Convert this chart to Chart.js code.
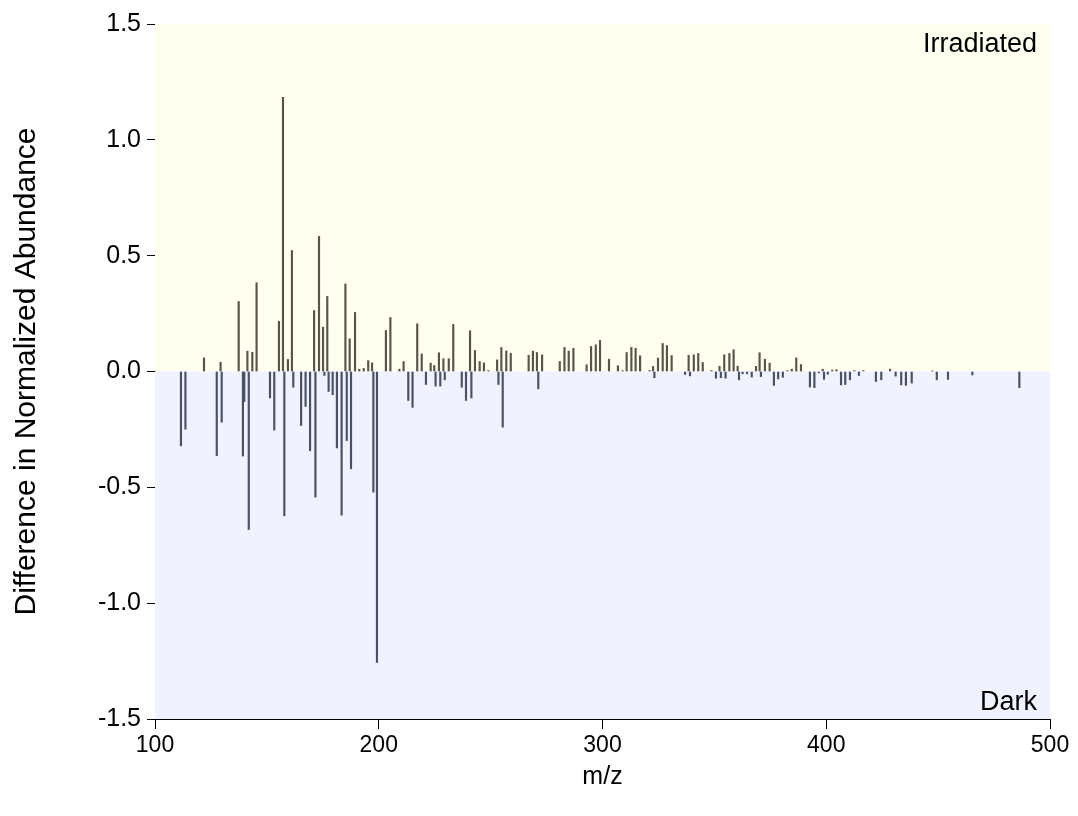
<!DOCTYPE html>
<html>
<head>
<meta charset="utf-8">
<script src="https://cdn.jsdelivr.net/npm/chart.js@4.4.1/dist/chart.umd.min.js"></script>
<style>
  html, body { margin: 0; padding: 0; background: #fff; }
  #wrap { width: 1078px; height: 816px; }
</style>
</head>
<body>
<div id="wrap"><canvas id="diff-chart" width="1078" height="816"></canvas></div>
<script>
// m/z of each peak and the irradiated-minus-dark abundance difference
const mzValues = [
  111.6, 113.6, 121.9, 127.6, 129.3, 129.8, 137.4, 139.3, 139.9, 141.3,
  141.9, 143.5, 145.4, 151.4, 153.3, 155.4, 157.2, 157.8, 159.4, 161.2,
  161.8, 165.3, 167.3, 169.3, 171.1, 171.7, 173.3, 175.1, 175.7, 177.0,
  177.6, 179.4, 181.3, 183.4, 185.1, 185.7, 187.0, 187.6, 189.4, 191.3,
  193.3, 195.3, 197.0, 197.6, 199.2, 203.2, 205.2, 209.2, 211.1, 213.2,
  215.1, 217.2, 219.2, 221.1, 223.2, 224.8, 225.4, 226.9, 227.5, 228.9,
  229.5, 231.3, 233.3, 237.1, 239.0, 240.8, 241.4, 243.0, 245.1, 247.0,
  249.0, 252.9, 253.5, 254.8, 255.4, 257.0, 259.0, 267.0, 268.9, 270.7,
  271.3, 273.0, 280.9, 283.0, 284.9, 287.0, 292.9, 294.9, 297.0, 298.9,
  302.9, 306.9, 309.0, 310.8, 312.9, 314.8, 316.8, 321.0, 322.6, 323.2,
  324.8, 326.9, 328.8, 330.9, 336.9, 338.5, 339.1, 340.8, 342.8, 344.8,
  348.7, 350.7, 352.3, 352.9, 354.4, 355.0, 356.7, 358.6, 360.4, 361.0,
  362.6, 364.6, 366.7, 368.6, 370.2, 370.8, 372.6, 374.7, 376.6, 378.5,
  380.6, 382.6, 384.6, 386.6, 388.7, 392.7, 394.7, 396.7, 398.4, 399.0,
  400.7, 402.7, 404.6, 406.6, 408.5, 410.6, 412.6, 414.6, 416.6, 422.2,
  424.6, 428.5, 431.0, 433.5, 435.6, 438.2, 447.4, 449.4, 454.4, 465.3,
  486.3
];
const diffValues = [
  -0.321, -0.249, 0.059, -0.363, 0.040, -0.219, 0.302, -0.365, -0.130, 0.088,
  -0.682, 0.083, 0.383, -0.114, -0.253, 0.217, 1.184, -0.623, 0.052, 0.522,
  -0.068, -0.233, -0.151, -0.342, 0.263, -0.542, 0.583, 0.191, -0.017, 0.324,
  -0.086, -0.100, -0.330, -0.620, 0.378, -0.298, 0.141, -0.420, 0.255, 0.010,
  0.013, 0.047, 0.037, -0.521, -1.256, 0.177, 0.233, 0.010, 0.043, -0.125,
  -0.155, 0.206, 0.076, -0.056, 0.036, 0.026, -0.063, 0.081, -0.063, 0.055,
  -0.036, 0.055, 0.203, -0.068, -0.125, 0.176, -0.114, 0.091, 0.043, 0.037,
  0.004, 0.050, -0.056, 0.104, -0.240, 0.089, 0.079, 0.070, 0.088, 0.082,
  -0.075, 0.072, 0.043, 0.104, 0.088, 0.100, 0.029, 0.108, 0.115, 0.134,
  0.053, 0.025, 0.004, 0.082, 0.104, 0.100, 0.068, 0.004, 0.022, -0.027,
  0.058, 0.121, 0.112, 0.069, -0.013, 0.070, -0.019, 0.072, 0.078, 0.039,
  0.004, -0.029, 0.023, -0.027, 0.072, -0.029, 0.078, 0.094, 0.023, -0.036,
  -0.010, -0.010, -0.024, 0.022, 0.081, -0.022, 0.053, 0.036, -0.060, -0.032,
  -0.025, 0.004, 0.010, 0.059, 0.030, -0.067, -0.070, -0.006, 0.010, -0.034,
  -0.012, 0.006, 0.008, -0.058, -0.056, -0.036, 0.004, -0.017, 0.004, -0.043,
  -0.036, 0.010, -0.020, -0.058, -0.060, -0.050, 0.003, -0.036, -0.034, -0.015,
  -0.070
];

const xTicks = [100, 200, 300, 400, 500];
const yTicks = [-1.5, -1.0, -0.5, 0.0, 0.5, 1.0, 1.5];
const regionLabels = ["Irradiated", "Dark"];

const FONT = 'Arial, "Liberation Sans", sans-serif';
const posColor = '#55554a';
const negColor = '#4b5064';

const points = mzValues.map((mz, i) => ({ x: mz, y: diffValues[i] }));

// shaded halves above/below zero, plus the two corner labels
const regions = {
    id: 'regions',
    beforeDatasetsDraw(chart) {
        const { ctx, chartArea: a, scales } = chart;
        const zero = scales.y.getPixelForValue(0);
        ctx.save();
        ctx.fillStyle = '#fffff0';
        ctx.fillRect(a.left, a.top, a.right - a.left, zero - a.top);
        ctx.fillStyle = '#f0f2ff';
        ctx.fillRect(a.left, zero, a.right - a.left, a.bottom - zero);
        ctx.fillStyle = '#000';
        ctx.font = '27px ' + FONT;
        ctx.textAlign = 'right';
        ctx.textBaseline = 'middle';
        ctx.fillText(regionLabels[0], a.right - 13, a.top + 21);
        ctx.fillText(regionLabels[1], a.right - 13, a.bottom - 16);
        ctx.restore();
    }
};

new Chart(document.getElementById('diff-chart'), {
    type: 'bar',
    data: {
        datasets: [{
            data: points,
            backgroundColor: c => (c.raw && c.raw.y < 0) ? negColor : posColor,
            borderWidth: 0,
            barThickness: 1.5,
            grouped: false
        }]
    },
    options: {
        responsive: false,
        animation: false,
        layout: { padding: { top: 24, right: 28, left: 0, bottom: 0 } },
        plugins: { legend: { display: false }, tooltip: { enabled: false } },
        scales: {
            x: {
                type: 'linear',
                min: 100,
                max: 500,
                offset: false,
                afterFit: s => { s.height = 97; },
                afterBuildTicks: s => { s.ticks = xTicks.map(v => ({ value: v })); },
                ticks: { color: '#000', font: { family: FONT, size: 23 }, padding: 3, maxRotation: 0 },
                grid: { offset: false, drawOnChartArea: false, drawTicks: true, tickLength: 10, color: '#000' },
                border: { display: true, color: '#000', width: 1 },
                title: { display: true, text: 'm/z', color: '#000', font: { family: FONT, size: 25 }, padding: { top: 0, bottom: 24 } }
            },
            y: {
                min: -1.5,
                max: 1.5,
                afterFit: s => { s.width = 155; },
                afterBuildTicks: s => { s.ticks = yTicks.map(v => ({ value: v })); },
                ticks: { color: '#000', font: { family: FONT, size: 25 }, padding: 6, callback: v => v.toFixed(1) },
                grid: { drawOnChartArea: false, drawTicks: true, tickLength: 8, color: '#000' },
                border: { display: true, color: '#000', width: 1 },
                title: { display: true, text: 'Difference in Normalized Abundance', color: '#000', font: { family: FONT, size: 30 }, padding: { top: 9, bottom: 0 } }
            }
        }
    },
    plugins: [regions]
});
</script>
</body>
</html>
